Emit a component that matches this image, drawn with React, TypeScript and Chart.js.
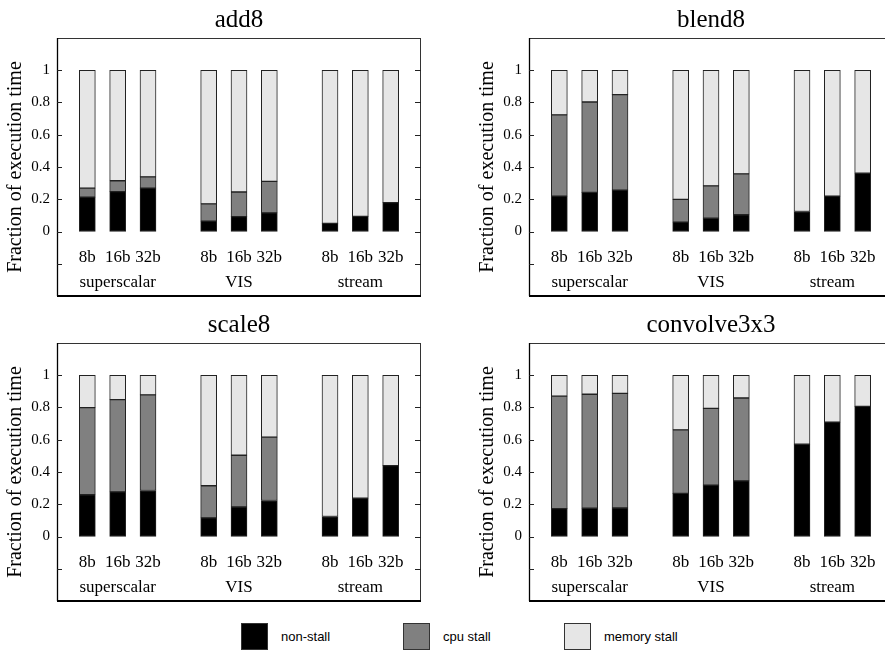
import React, { useEffect, useRef } from 'react';
import { Chart, registerables } from 'chart.js';

Chart.register(...registerables);

// ---- data ----
const barLabels = ['8b', '16b', '32b'];
const groupLabels = ['superscalar', 'VIS', 'stream'];
const seriesNames = ['non-stall', 'cpu stall', 'memory stall'];
const seriesColors = ['#000000', '#808080', '#e6e6e6'];
const yTickValues = [0, 0.2, 0.4, 0.6, 0.8, 1];
const yAxisTitle = 'Fraction of execution time';

const add8NonStall = [0.213, 0.247, 0.269, 0.064, 0.092, 0.116, 0.05, 0.094, 0.179];
const add8Cpu = [0.056, 0.068, 0.07, 0.107, 0.153, 0.195, 0, 0, 0];
const add8Memory = [0.731, 0.685, 0.661, 0.829, 0.755, 0.689, 0.95, 0.906, 0.821];

const blend8NonStall = [0.219, 0.243, 0.257, 0.058, 0.082, 0.104, 0.124, 0.219, 0.361];
const blend8Cpu = [0.504, 0.56, 0.592, 0.141, 0.201, 0.253, 0, 0, 0];
const blend8Memory = [0.277, 0.197, 0.151, 0.801, 0.717, 0.643, 0.876, 0.781, 0.639];

const scale8NonStall = [0.259, 0.277, 0.285, 0.116, 0.183, 0.223, 0.124, 0.237, 0.44];
const scale8Cpu = [0.54, 0.572, 0.593, 0.199, 0.321, 0.393, 0, 0, 0];
const scale8Memory = [0.201, 0.151, 0.122, 0.685, 0.496, 0.384, 0.876, 0.763, 0.56];

const convNonStall = [0.173, 0.175, 0.177, 0.267, 0.319, 0.345, 0.572, 0.709, 0.807];
const convCpu = [0.698, 0.707, 0.711, 0.394, 0.476, 0.514, 0, 0, 0];
const convMemory = [0.129, 0.118, 0.112, 0.339, 0.205, 0.141, 0.428, 0.291, 0.193];

// ---- helpers ----
// 13 category slots: empty slot, 3 bars, empty slot, 3 bars, empty slot, 3 bars, empty slot
const slotLabels: string[] = [''];
groupLabels.forEach(() => {
  barLabels.forEach((b) => slotLabels.push(b));
  slotLabels.push('');
});

function toSlots(vals: number[]) {
  const out: (number | null)[] = [null];
  for (let g = 0; g < 3; g++) {
    for (let b = 0; b < 3; b++) out.push(vals[g * 3 + b]);
    out.push(null);
  }
  return out;
}

const SERIF = "'Liberation Serif', 'Times New Roman', serif";

const panelPlugin = {
  id: 'panelDeco',
  afterDatasetsDraw(chart: any, _args: any, opts: any) {
    const { ctx, chartArea, scales } = chart;
    const x = scales.x;
    const y = scales.y;
    ctx.save();
    // box
    ctx.strokeStyle = '#333';
    ctx.lineWidth = 1;
    ctx.strokeRect(chartArea.left + 0.5, chartArea.top + 0.5, chartArea.right - chartArea.left - 1, chartArea.bottom - chartArea.top);
    ctx.strokeStyle = '#000';
    ctx.lineWidth = 2;
    ctx.beginPath();
    ctx.moveTo(chartArea.left, chartArea.bottom);
    ctx.lineTo(chartArea.right, chartArea.bottom);
    ctx.stroke();
    ctx.lineWidth = 1.3;
    ctx.beginPath();
    ctx.moveTo(chartArea.left + 0.5, chartArea.top);
    ctx.lineTo(chartArea.left + 0.5, chartArea.bottom);
    ctx.stroke();
    // inner tick marks
    ctx.strokeStyle = '#222';
    ctx.lineWidth = 1;
    const tickVals = [-0.2, ...yTickValues];
    tickVals.forEach((v) => {
      const py = Math.round(y.getPixelForValue(v)) + 0.5;
      ctx.beginPath();
      ctx.moveTo(chartArea.left, py);
      ctx.lineTo(chartArea.left + 5, py);
      ctx.moveTo(chartArea.right, py);
      ctx.lineTo(chartArea.right - 6, py);
      ctx.stroke();
    });
    // bar labels and group labels inside the box
    ctx.fillStyle = '#000';
    ctx.textAlign = 'center';
    ctx.textBaseline = 'alphabetic';
    ctx.font = `17px ${SERIF}`;
    const labelY = y.getPixelForValue(-0.19);
    slotLabels.forEach((lab, i) => {
      if (lab) ctx.fillText(lab, x.getPixelForValue(i), labelY);
    });
    const groupY = y.getPixelForValue(-0.345);
    groupLabels.forEach((g, gi) => {
      ctx.fillText(g, x.getPixelForValue(gi * 4 + 2), groupY);
    });
    // panel title
    ctx.font = `25px ${SERIF}`;
    ctx.fillText(opts.title, (chartArea.left + chartArea.right) / 2, chartArea.top - 11);
    ctx.restore();
  },
};

type PanelProps = {
  title: string;
  nonStall: number[];
  cpu: number[];
  memory: number[];
  left: number;
  top: number;
};

function Panel({ title, nonStall, cpu, memory, left, top }: PanelProps) {
  const ref = useRef<HTMLCanvasElement>(null);
  useEffect(() => {
    if (!ref.current) return;
    const series = [nonStall, cpu, memory];
    const chart = new Chart(ref.current, {
      type: 'bar',
      data: {
        labels: slotLabels,
        datasets: series.map((vals, i) => ({
          label: seriesNames[i],
          data: toSlots(vals),
          backgroundColor: seriesColors[i],
          borderColor: '#222',
          borderWidth: 1,
          borderSkipped: false,
          barThickness: 16,
          stack: 's',
        })),
      },
      options: {
        responsive: false,
        animation: false,
        layout: { padding: { left: 0, right: 19, top: 38, bottom: 7 } },
        plugins: {
          legend: { display: false },
          tooltip: { enabled: false },
          panelDeco: { title },
        } as any,
        scales: {
          x: {
            type: 'category',
            stacked: true,
            offset: false,
            display: false,
          },
          y: {
            stacked: true,
            min: -0.4,
            max: 1.2,
            afterFit: (s: any) => {
              s.width = 57;
            },
            ticks: {
              stepSize: 0.2,
              padding: 7,
              color: '#000',
              font: { family: SERIF, size: 15 },
              callback: (v: any) => {
                const r = Math.round(Number(v) * 10) / 10;
                return r >= 0 && r <= 1 ? String(r) : '';
              },
            },
            grid: { display: false, drawTicks: false },
            border: { display: false },
            title: {
              display: true,
              text: yAxisTitle,
              color: '#000',
              font: { family: SERIF, size: 20 },
              padding: { top: 4, bottom: 4 },
            },
          },
        },
      },
      plugins: [panelPlugin],
    });
    return () => chart.destroy();
  }, []);
  return (
    <canvas
      ref={ref}
      width={440}
      height={312}
      style={{ position: 'absolute', left, top, width: 440, height: 312 }}
    />
  );
}

const legendLefts = [241, 403, 564];

export default function App() {
  return (
    <div
      style={{
        position: 'fixed',
        left: 0,
        top: 0,
        width: 885,
        height: 652,
        overflow: 'hidden',
        background: '#fff',
      }}
    >
      <Panel title="add8" nonStall={add8NonStall} cpu={add8Cpu} memory={add8Memory} left={0} top={0} />
      <Panel title="blend8" nonStall={blend8NonStall} cpu={blend8Cpu} memory={blend8Memory} left={472} top={0} />
      <Panel title="scale8" nonStall={scale8NonStall} cpu={scale8Cpu} memory={scale8Memory} left={0} top={305} />
      <Panel title="convolve3x3" nonStall={convNonStall} cpu={convCpu} memory={convMemory} left={472} top={305} />
      {seriesNames.map((name, i) => (
        <div key={name}>
          <div
            style={{
              position: 'absolute',
              left: legendLefts[i],
              top: 623,
              width: 25,
              height: 25,
              background: seriesColors[i],
              border: '1px solid #333',
            }}
          />
          <div
            style={{
              position: 'absolute',
              left: legendLefts[i] + 40,
              top: 629,
              fontFamily: "'Liberation Sans', Arial, sans-serif",
              fontSize: 13,
              lineHeight: '16px',
              color: '#000',
              whiteSpace: 'nowrap',
            }}
          >
            {name}
          </div>
        </div>
      ))}
    </div>
  );
}
